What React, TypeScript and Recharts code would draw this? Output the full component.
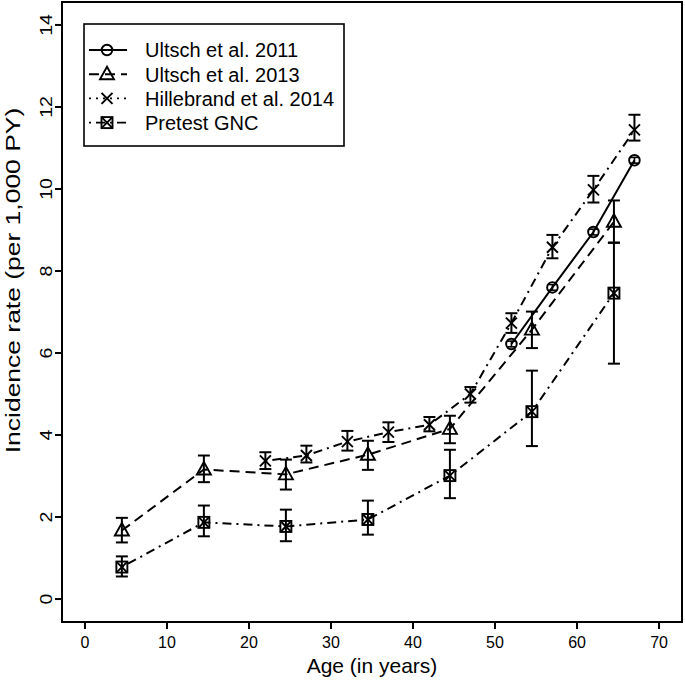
import React from "react";
import {
  ScatterChart,
  Scatter,
  XAxis,
  YAxis,
  ErrorBar,
  ReferenceArea,
} from "recharts";

// ---- data ----
const ultsch2011Age = [52, 57, 62, 67];
const ultsch2011Rate = [6.22, 7.6, 8.95, 10.7];
const ultsch2011Lo = [6.15, 7.53, 8.88, 10.63];
const ultsch2011Hi = [6.29, 7.67, 9.02, 10.77];

const ultsch2013Age = [4.5, 14.5, 24.5, 34.5, 44.5, 54.5, 64.5];
const ultsch2013Rate = [1.67, 3.16, 3.04, 3.52, 4.15, 6.57, 9.2];
const ultsch2013Lo = [1.38, 2.85, 2.67, 3.15, 3.8, 6.12, 8.69];
const ultsch2013Hi = [1.98, 3.5, 3.4, 3.86, 4.47, 7.01, 9.72];

const hillebrandAge = [22, 27, 32, 37, 42, 47, 52, 57, 62, 67];
const hillebrandRate = [3.37, 3.5, 3.84, 4.07, 4.25, 5.0, 6.73, 8.58, 9.98, 11.44];
const hillebrandLo = [3.17, 3.33, 3.62, 3.83, 4.09, 4.79, 6.49, 8.31, 9.67, 11.18];
const hillebrandHi = [3.58, 3.74, 4.1, 4.31, 4.44, 5.17, 6.97, 8.88, 10.32, 11.81];

const pretestAge = [4.5, 14.5, 24.5, 34.5, 44.5, 54.5, 64.5];
const pretestRate = [0.78, 1.87, 1.77, 1.94, 3.01, 4.57, 7.46];
const pretestLo = [0.55, 1.53, 1.41, 1.57, 2.46, 3.73, 5.74];
const pretestHi = [1.04, 2.28, 2.18, 2.4, 3.64, 5.57, 8.69];

const seriesNames = [
  "Ultsch et al. 2011",
  "Ultsch et al. 2013",
  "Hillebrand et al. 2014",
  "Pretest GNC",
];

const xTicks = [0, 10, 20, 30, 40, 50, 60, 70];
const yTicks = [0, 2, 4, 6, 8, 10, 12, 14];
const xDomain = [-2.8, 72.8];
const yDomain = [-0.56, 14.56];

const build = (ages: number[], rates: number[], lo: number[], hi: number[]) =>
  ages.map((a, i) => ({ x: a, y: rates[i], err: [rates[i] - lo[i], hi[i] - rates[i]] }));

const d2011 = build(ultsch2011Age, ultsch2011Rate, ultsch2011Lo, ultsch2011Hi);
const d2013 = build(ultsch2013Age, ultsch2013Rate, ultsch2013Lo, ultsch2013Hi);
const dHill = build(hillebrandAge, hillebrandRate, hillebrandLo, hillebrandHi);
const dPre = build(pretestAge, pretestRate, pretestLo, pretestHi);

const FONT = "'Liberation Sans', Arial, Helvetica, sans-serif";
const SW = 1.9;

// ---- markers ----
const CircleM = ({ cx, cy }: any) => (
  <circle cx={cx} cy={cy} r={5.3} fill="none" stroke="#000" strokeWidth={SW} />
);
const TriM = ({ cx, cy }: any) => (
  <polygon
    points={`${cx},${cy - 7.5} ${cx - 7},${cy + 5} ${cx + 7},${cy + 5}`}
    fill="none"
    stroke="#000"
    strokeWidth={SW}
    strokeLinejoin="miter"
  />
);
const CrossM = ({ cx, cy }: any) => (
  <g stroke="#000" strokeWidth={SW}>
    <line x1={cx - 5.5} y1={cy - 5.5} x2={cx + 5.5} y2={cy + 5.5} />
    <line x1={cx - 5.5} y1={cy + 5.5} x2={cx + 5.5} y2={cy - 5.5} />
  </g>
);
const SqXM = ({ cx, cy }: any) => (
  <g stroke="#000" strokeWidth={SW} fill="none">
    <rect x={cx - 5.5} y={cy - 5.5} width={11} height={11} />
    <line x1={cx - 5.5} y1={cy - 5.5} x2={cx + 5.5} y2={cy + 5.5} />
    <line x1={cx - 5.5} y1={cy + 5.5} x2={cx + 5.5} y2={cy - 5.5} />
  </g>
);

const DASH_2013 = "10 6";
const DASH_DOTDASH = "2 5 9 5";

// ---- ticks ----
const XTick = ({ x, y, payload }: any) => (
  <text x={x} y={y} dy={11.6} textAnchor="middle" fontSize={16} fontFamily={FONT} fill="#000">
    {payload.value}
  </text>
);
const YTick = ({ x, y, payload }: any) => (
  <text
    transform={`translate(${x}, ${y}) rotate(-90) scale(1.22,1)`}
    textAnchor="middle"
    fontSize={16}
    fontFamily={FONT}
    fill="#000"
  >
    {payload.value}
  </text>
);

const XTitle = (props: any) => {
  const vb = props.viewBox || { x: 62, y: 622, width: 620, height: 59 };
  return (
    <text
      x={vb.x + vb.width / 2}
      y={vb.y + 51}
      textAnchor="middle"
      fontSize={21}
      fontFamily={FONT}
      fill="#000"
    >
      Age (in years)
    </text>
  );
};
const YTitle = () => (
  <text
    transform={`translate(20, 280.5) rotate(-90) scale(1.26,1)`}
    textAnchor="middle"
    fontSize={21}
    fontFamily={FONT}
    fill="#000"
  >
    Incidence rate (per 1,000 PY)
  </text>
);

// ---- legend ----
const legendMarkers = [CircleM, TriM, CrossM, SqXM];
const legendDash = [undefined, DASH_2013, "2 5", DASH_DOTDASH];
const LegendBox = () => (
  <svg
    width={262}
    height={124}
    style={{ position: "absolute", left: 83, top: 23, overflow: "visible" }}
  >
    <rect x={1} y={1} width={260} height={122} fill="#fff" stroke="#000" strokeWidth={1.6} />
    {seriesNames.map((name, i) => {
      const cy = 27 + i * 24.2;
      const M = legendMarkers[i];
      return (
        <g key={name}>
          <line
            x1={6}
            y1={cy}
            x2={44}
            y2={cy}
            stroke="#000"
            strokeWidth={SW}
            strokeDasharray={legendDash[i]}
          />
          <M cx={24} cy={cy} />
          <text x={62} y={cy + 7.3} fontSize={20} fontFamily={FONT} fill="#000">
            {name}
          </text>
        </g>
      );
    })}
  </svg>
);

export default function App() {
  return (
    <div style={{ position: "absolute", left: 0, top: 0, width: 685, height: 681, background: "#fff" }}>
      <ScatterChart
        width={685}
        height={681}
        margin={{ top: 2, right: 3, bottom: 0, left: 0 }}
      >
        <XAxis
          type="number"
          dataKey="x"
          domain={xDomain}
          ticks={xTicks}
          allowDataOverflow
          height={59}
          tickSize={7}
          tickMargin={7}
          axisLine={false}
          tickLine={{ stroke: "#000", strokeWidth: 2 }}
          tick={<XTick />}
          label={{ content: (p: any) => <XTitle {...p} /> }}
        />
        <YAxis
          type="number"
          dataKey="y"
          domain={yDomain}
          ticks={yTicks}
          allowDataOverflow
          width={62}
          tickSize={7}
          tickMargin={3}
          axisLine={false}
          tickLine={{ stroke: "#000", strokeWidth: 2 }}
          tick={<YTick />}
          label={{ content: () => <YTitle /> }}
        />
        <ReferenceArea
          x1={xDomain[0]}
          x2={xDomain[1]}
          y1={yDomain[0]}
          y2={yDomain[1]}
          fill="none"
          fillOpacity={0}
          stroke="#000"
          strokeWidth={2}
          ifOverflow="visible"
        />
        <Scatter
          data={dPre}
          isAnimationActive={false}
          shape={(p: any) => <SqXM {...p} />}
          line={{ stroke: "#000", strokeWidth: 2, strokeDasharray: DASH_DOTDASH }}
          lineType="joint"
        >
          <ErrorBar dataKey="err" direction="y" width={6} stroke="#000" strokeWidth={2} isAnimationActive={false} />
        </Scatter>
        <Scatter
          data={dHill}
          isAnimationActive={false}
          shape={(p: any) => <CrossM {...p} />}
          line={{ stroke: "#000", strokeWidth: 2, strokeDasharray: DASH_DOTDASH }}
          lineType="joint"
        >
          <ErrorBar dataKey="err" direction="y" width={6} stroke="#000" strokeWidth={2} isAnimationActive={false} />
        </Scatter>
        <Scatter
          data={d2013}
          isAnimationActive={false}
          shape={(p: any) => <TriM {...p} />}
          line={{ stroke: "#000", strokeWidth: 2, strokeDasharray: DASH_2013 }}
          lineType="joint"
        >
          <ErrorBar dataKey="err" direction="y" width={6} stroke="#000" strokeWidth={2} isAnimationActive={false} />
        </Scatter>
        <Scatter
          data={d2011}
          isAnimationActive={false}
          shape={(p: any) => <CircleM {...p} />}
          line={{ stroke: "#000", strokeWidth: 2 }}
          lineType="joint"
        >
          <ErrorBar dataKey="err" direction="y" width={4} stroke="#000" strokeWidth={1.6} isAnimationActive={false} />
        </Scatter>
      </ScatterChart>
      <LegendBox />
    </div>
  );
}
